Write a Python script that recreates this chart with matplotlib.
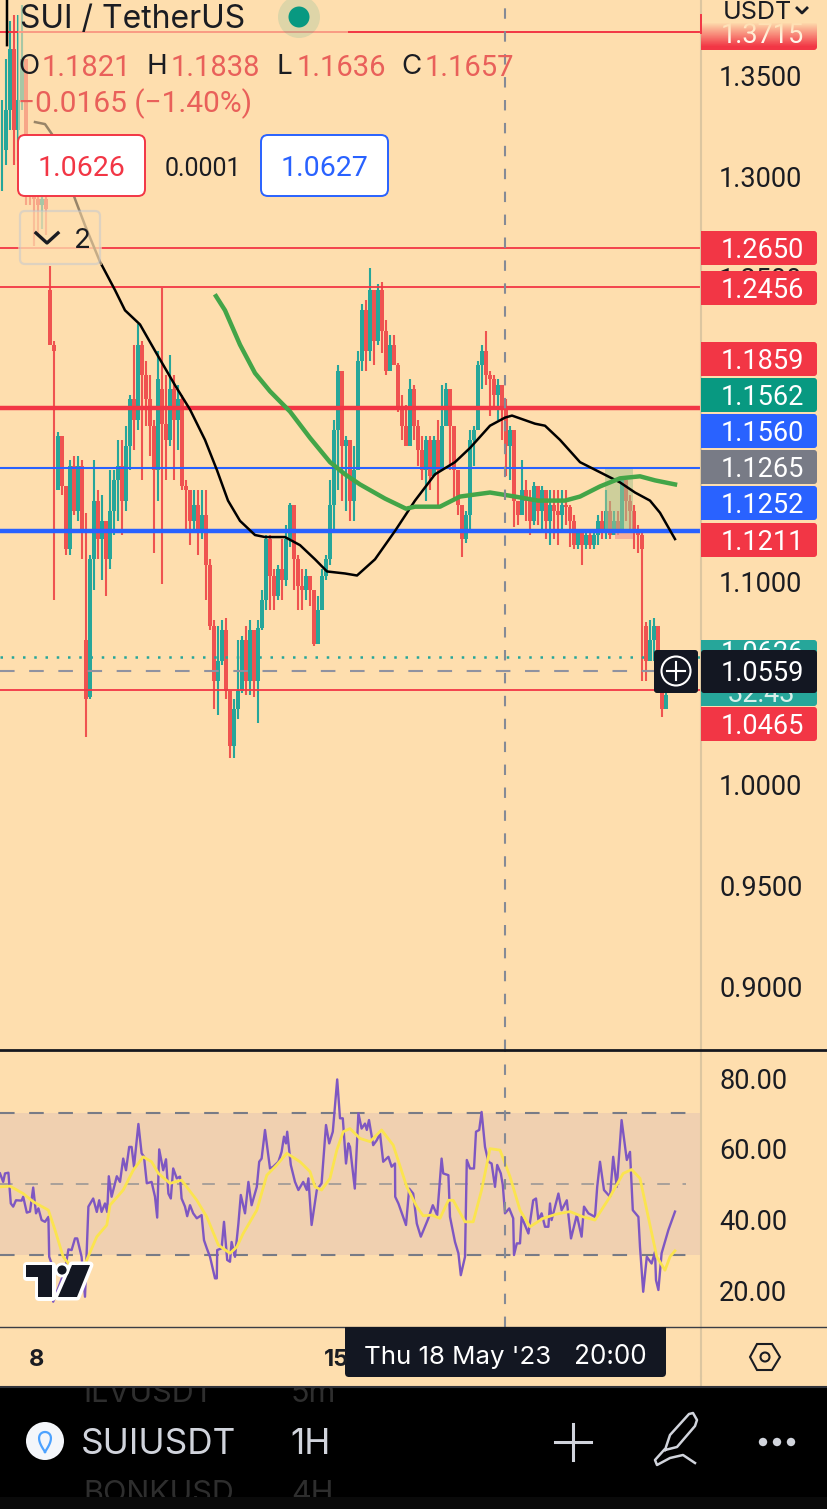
import numpy as np
import matplotlib
matplotlib.use("Agg")
import matplotlib.pyplot as plt
from matplotlib.patches import Rectangle, Circle, FancyBboxPatch, Polygon

plt.rcParams['font.family'] = ['Inter', 'DejaVu Sans']

# candles, price in USDT. opens follow the previous close except in open_gaps
closes = [1.313, 1.333, 1.363, 1.323, 1.338, 1.358, 1.298, 1.293, 1.289, 1.286,
          1.289, 1.284, 1.217, 1.214, 1.172, 1.147, 1.116, 1.157, 1.135, 1.157,
          1.125, 1.042, 1.111, 1.140, 1.121, 1.130, 1.111, 1.135, 1.150, 1.157,
          1.140, 1.167, 1.190, 1.180, 1.217, 1.202, 1.190, 1.177, 1.155, 1.200,
          1.178, 1.170, 1.195, 1.180, 1.190, 1.147, 1.145, 1.130, 1.138, 1.125,
          1.133, 1.108, 1.078, 1.051, 1.061, 1.076, 1.046, 1.019, 1.037, 1.046,
          1.071, 1.051, 1.076, 1.051, 1.077, 1.091, 1.121, 1.103, 1.093, 1.106,
          1.101, 1.121, 1.138, 1.111, 1.098, 1.096, 1.103, 1.096, 1.069, 1.086,
          1.103, 1.111, 1.138, 1.175, 1.204, 1.167, 1.170, 1.140, 1.155, 1.209,
          1.234, 1.214, 1.244, 1.219, 1.244, 1.224, 1.204, 1.217, 1.207, 1.185,
          1.177, 1.167, 1.195, 1.177, 1.165, 1.155, 1.170, 1.152, 1.170, 1.155,
          1.177, 1.195, 1.177, 1.155, 1.138, 1.121, 1.133, 1.170, 1.175, 1.207,
          1.214, 1.202, 1.200, 1.192, 1.197, 1.185, 1.167, 1.175, 1.140, 1.133,
          1.145, 1.140, 1.130, 1.147, 1.135, 1.145, 1.130, 1.138, 1.135, 1.133,
          1.138, 1.137, 1.130, 1.118, 1.124, 1.118, 1.123, 1.118, 1.123, 1.130,
          1.124, 1.135, 1.123, 1.130, 1.125, 1.150, 1.140, 1.135, 1.125, 1.123,
          1.116, 1.061, 1.071, 1.078, 1.051, 1.037, 1.044]
highs = [1.338, 1.358, 1.377, 1.380, 1.380, 1.385, 1.338, 1.313, 1.298, 1.293,
         1.293, 1.291, 1.256, 1.219, 1.174, 1.167, 1.145, 1.160, 1.162, 1.162,
         1.160, 1.134, 1.113, 1.160, 1.145, 1.143, 1.128, 1.155, 1.155, 1.170,
         1.170, 1.177, 1.192, 1.217, 1.227, 1.219, 1.209, 1.202, 1.180, 1.214,
         1.245, 1.202, 1.212, 1.202, 1.197, 1.192, 1.150, 1.145, 1.145, 1.145,
         1.145, 1.145, 1.111, 1.081, 1.078, 1.081, 1.082, 1.044, 1.042, 1.071,
         1.073, 1.078, 1.081, 1.069, 1.081, 1.096, 1.123, 1.123, 1.106, 1.108,
         1.121, 1.128, 1.139, 1.135, 1.113, 1.106, 1.106, 1.103, 1.091, 1.093,
         1.106, 1.113, 1.150, 1.180, 1.207, 1.185, 1.172, 1.170, 1.167, 1.214,
         1.237, 1.239, 1.255, 1.234, 1.247, 1.248, 1.229, 1.222, 1.222, 1.208,
         1.192, 1.187, 1.200, 1.197, 1.180, 1.172, 1.172, 1.172, 1.172, 1.180,
         1.197, 1.198, 1.185, 1.175, 1.155, 1.138, 1.135, 1.175, 1.177, 1.209,
         1.217, 1.224, 1.204, 1.202, 1.200, 1.197, 1.190, 1.177, 1.172, 1.140,
         1.160, 1.150, 1.145, 1.149, 1.147, 1.147, 1.145, 1.145, 1.145, 1.145,
         1.145, 1.145, 1.138, 1.133, 1.125, 1.124, 1.125, 1.125, 1.125, 1.133,
         1.135, 1.145, 1.140, 1.135, 1.135, 1.152, 1.150, 1.143, 1.138, 1.128,
         1.124, 1.080, 1.081, 1.082, 1.071, 1.046, 1.049]
lows = [1.293, 1.306, 1.323, 1.306, 1.308, 1.333, 1.286, 1.286, 1.266, 1.271,
        1.274, 1.271, 1.217, 1.091, 1.145, 1.143, 1.113, 1.113, 1.133, 1.130,
        1.111, 1.023, 1.042, 1.096, 1.111, 1.101, 1.093, 1.106, 1.123, 1.130,
        1.123, 1.135, 1.155, 1.165, 1.175, 1.150, 1.177, 1.162, 1.114, 1.140,
        1.099, 1.150, 1.167, 1.150, 1.165, 1.145, 1.125, 1.118, 1.125, 1.113,
        1.121, 1.091, 1.076, 1.037, 1.034, 1.059, 1.042, 1.013, 1.013, 1.032,
        1.045, 1.044, 1.044, 1.043, 1.030, 1.076, 1.086, 1.086, 1.086, 1.091,
        1.091, 1.098, 1.117, 1.096, 1.086, 1.086, 1.091, 1.088, 1.068, 1.078,
        1.091, 1.101, 1.108, 1.125, 1.145, 1.140, 1.135, 1.130, 1.130, 1.161,
        1.204, 1.204, 1.209, 1.207, 1.217, 1.213, 1.202, 1.207, 1.207, 1.184,
        1.170, 1.167, 1.167, 1.170, 1.157, 1.150, 1.140, 1.145, 1.155, 1.138,
        1.155, 1.177, 1.155, 1.140, 1.133, 1.112, 1.119, 1.125, 1.157, 1.185,
        1.195, 1.197, 1.182, 1.185, 1.180, 1.170, 1.152, 1.150, 1.127, 1.128,
        1.133, 1.130, 1.123, 1.128, 1.128, 1.125, 1.121, 1.118, 1.121, 1.118,
        1.125, 1.128, 1.117, 1.116, 1.116, 1.108, 1.116, 1.116, 1.116, 1.118,
        1.121, 1.121, 1.121, 1.123, 1.123, 1.125, 1.130, 1.125, 1.116, 1.114,
        1.051, 1.051, 1.066, 1.061, 1.051, 1.033, 1.039]
open_gaps = {12: 1.244, 13: 1.217, 14: 1.145, 21: 1.071, 22: 1.043, 40: 1.195,
             160: 1.123, 161: 1.078, 165: 1.045}

# moving averages, (bar, price). nan = part hidden by the legend
ma_black_x = [1.25, 1.25, 5, 8.25, 10.75, 12.5, 18.25, 20.75, 24.5, 28.25, 30.75, 34.5, 38.25,
              43.25, 47, 50.75, 53.75, 56.5, 59.5, 63.25, 65.75, 70.75, 74.5, 78.25, 81.25,
              85.75, 88.75, 93.25, 98.25, 103.25, 108.25, 113.25, 117, 122, 125.75, 127.5,
              133.25, 135.75, 139.5, 144.5, 149.5, 154.5, 158.25, 162, 164.5, 168.25]
ma_black = [1.387, 1.365, np.nan, 1.327, 1.326, 1.321, 1.289, 1.276, 1.258, 1.244, 1.234, 1.227, 1.214,
            1.197, 1.185, 1.170, 1.155, 1.140, 1.130, 1.123, 1.122, 1.122, 1.118, 1.111, 1.105,
            1.104, 1.103, 1.111, 1.125, 1.140, 1.153, 1.159, 1.166, 1.177, 1.181, 1.182,
            1.178, 1.177, 1.170, 1.159, 1.154, 1.149, 1.144, 1.140, 1.134, 1.121]
ma_green_x = [53.5, 55.75, 59.5, 63.25, 67, 72, 77, 82, 85.75, 89.5, 95.75, 101, 103.25, 109.5,
              114.5, 122, 128.25, 134, 140.75, 144.5, 149.5, 154.5, 159.5, 163.25, 168.25]
ma_green = [1.241, 1.234, 1.217, 1.203, 1.194, 1.184, 1.171, 1.159, 1.153, 1.148, 1.141, 1.136,
            1.137, 1.137, 1.142, 1.144, 1.142, 1.140, 1.140, 1.142, 1.147, 1.151, 1.152, 1.150,
            1.148]

# rsi pane
rsi_x = [-0.5, 0.3, 0.75, 1.6, 2.2, 2.8, 3.5, 4.9, 5.3, 6.2, 7, 7.8, 8.5, 9.1, 9.9, 10.75, 11.6,
         11.8, 12.4, 12.8, 14.5, 15.75, 16.6, 17.4, 18.25, 18.8, 19.9, 20.75, 21.6, 22.8, 23.7,
         24.3, 24.9, 25.75, 26.3, 26.7, 27.4, 28.7, 29.5, 30.3, 31, 31.8, 32.4, 33, 34.1, 34.9,
         35.5, 36.2, 37.4, 38.25, 38.8, 39.3, 40.3, 41, 41.6, 42.2, 42.8, 43.7, 44.5, 44.9,
         45.75, 46.3, 47, 47.8, 48.7, 49.9, 50.5, 51.2, 52, 53.25, 53.7, 53.8, 54.9, 55.5, 56.3,
         57, 57.4, 58.25, 59.1, 59.7, 60.75, 61.6, 62.4, 63.7, 64.3, 64.9, 65.75, 67, 67.8, 69.1,
         69.9, 70.5, 71, 71.3, 72.2, 73.25, 74.1, 75.3, 76.2, 76.6, 77.4, 78.7, 79.9, 81, 81.8,
         82.7, 83.8, 84.5, 85.2, 86, 86.6,
         87, 88.2, 89.1, 89.9, 90.75, 91.2, 91.75, 92.8, 93.7, 94.5, 95.3, 96.6, 97.4, 98.25,
         98.3, 99.1, 100.3, 101, 101.8, 102.8, 103.7, 104.7, 106.6, 107.7, 108.8, 109.9, 110.3,
         111.6, 112, 113.25, 114.1, 114.7, 115.75, 116.2, 117, 118, 118.5, 119.3, 119.9, 120.75,
         121.6, 122.4, 123.25, 123.8, 124.7, 125.2, 125.75, 126.8, 127.8, 128, 128.7, 129.5,
         129.9, 131.6, 132.8, 133.5, 134.1, 134.9, 135.75, 136.6, 137, 137.4, 139.1, 139.9,
         141.2, 142.25, 143.7, 144.9, 145.5, 146.6, 148.25, 148.8, 149.5, 150.5, 152, 152.8,
         153.7, 154.9, 156.2, 157, 157.7, 159.1, 159.5, 160.3, 161.2, 162.4, 163.25, 163.5,
         164.1, 164.9, 166.6, 168.25]
rsi = [53.0, 50.6, 53.0, 53.2, 44.5, 43.6, 45.4, 45.3, 46.4, 41.9, 42.2, 49.0, 41.7, 43.1, 39.8, 39.3, 40.7,
       29.4, 27.5, 16.7, 21.9, 25.6, 31.5, 31.3, 34.6, 34.6, 29.4, 18.1, 43.6, 45.9, 42.1,
       45.4, 42.1, 44.5, 42.1, 52.2, 46.4, 52.2, 50.6, 57.2, 53.9, 60.5, 60.5, 54.9, 67.0, 58.7,
       57.7, 50.2, 50.6, 46.4, 40.5, 59.8, 53.9, 57.0, 47.3, 45.9, 54.4, 51.6, 52.1, 45.9,
       43.6, 40.9, 44.0, 41.7, 40.3, 41.2, 34.1, 31.8, 29.4, 23.3, 23.3, 31.3, 31.8, 39.3, 28.5,
       28.0, 33.6, 29.4, 38.8, 46.9, 41.7, 50.6, 44.0, 49.2, 56.3, 57.2, 65.3, 54.4, 54.9, 56.3,
       59.1, 63.4, 61.5, 64.8, 55.4, 50.6, 48.3, 50.6, 48.3, 51.6, 38.4, 48.3, 50.2, 66.7, 61.5,
       64.8, 79.6, 68.6, 68.6, 55.8, 61.5,
       60.5, 48.7, 70.0, 65.7, 67.1, 65.3, 68.1, 61.0, 62.4, 64.3, 56.3, 57.7, 54.9, 55.8,
       46.4, 44.5, 40.7, 38.4, 48.7, 47.3, 38.8, 35.1, 40.3, 44.0, 41.2, 57.2, 53.0,
       52.5, 40.7, 33.6, 30.4, 24.2, 29.4, 56.8, 54.4, 54.4, 64.8, 65.3, 70.4, 60.5,
       56.3, 55.8, 49.2, 55.4, 53.0, 49.7, 41.7, 43.1, 40.3, 29.9, 33.2, 33.2,
       40.7, 36.0, 45.4, 45.9, 39.8, 41.7, 37.9, 37.9, 44.5, 39.8, 47.3, 42.6,
       45.4, 34.6, 41.2, 35.1, 43.6, 41.7, 40.7, 49.2, 56.3, 48.3, 46.4, 57.7,
       49.2, 68.1, 56.8, 59.1, 42.6, 40.7, 32.2, 19.5, 29.4, 27.5, 30.8, 22.8,
       20.0, 30.4, 37.0, 42.2]
rsi_ma_x = [-0.5, 2, 5.3, 7.8, 11.6, 13.25, 15.3, 16.6, 18.25, 21, 23.7, 26.2, 27, 30.3, 32.8, 35.3,
            37.4, 39.1, 42, 44.9, 48.7, 51.2, 54.1, 57, 58.7, 60.3, 63.7, 66.2, 68.7, 71.2, 74.5,
            77, 78.25, 79.9, 82, 83.7, 85.3, 87, 89.5, 92, 94.9, 97.8, 101.2, 103.7, 105.3, 107.4,
            109.5, 111.6, 112.8, 115.75, 117.8, 119.9, 122, 124.5, 127, 129.5, 132, 135.3, 138.7,
            142, 145.3, 148.25, 152, 155.3, 157.4, 159.5, 161.2, 163.7, 165.75, 167, 168.25]
rsi_ma = [49.2, 49.4, 47.3, 45, 42.6, 37, 29.4, 27.5, 25.6, 28, 35.1, 38.4, 44, 48.3, 53.9, 57.7,
          56.3, 53, 50.2, 51.1, 45.4, 40.7, 32.7, 30.4, 32.2, 36, 42.6, 52.5, 55.4, 58.7, 56.3,
          53.5, 49.2, 48.3, 51.6, 59.6, 64.8, 65.7, 62.9, 62, 65.3, 61, 49.2, 43.6, 41, 41.2,
          40.3, 45.4, 45.4, 39.3, 39.3, 48.3, 60, 59.6, 52.1, 42.6, 37.9, 40.3, 41.5,
          42.2, 40.7, 39.8, 46.4, 53, 54.1, 51.6, 42.6, 29.4, 25.6, 29.4, 31.1]

price_ticks = [0.90, 0.95, 1.00, 1.10, 1.25, 1.30, 1.35]
rsi_ticks = [20, 40, 60, 80]

BG = '#FEDEAE'
UP = '#26A69A'
DOWN = '#EF5350'
RED = '#F23645'
BLUE = '#2962FF'
DARK = '#131722'
TXT = '#1A1C22'
NUM_FONT = ['Roboto', 'DejaVu Sans']

W, H = 828, 1509
XLIM = (-0.5, 174.75)
fig = plt.figure(figsize=(W / 100, H / 100), dpi=100, facecolor=BG)

ax = fig.add_axes([0, 1 - 1050 / H, 701 / W, 1050 / H], facecolor=BG)
ax.set_xlim(*XLIM)
ax.set_ylim(0.8686, 1.3873)
ax2 = fig.add_axes([0, 1 - 1327 / H, 701 / W, 276 / H], facecolor=BG)
ax2.set_xlim(*XLIM)
ax2.set_ylim(9.53, 87.65)

for a in (ax, ax2):
    for s in a.spines.values():
        s.set_visible(False)
    a.set_xticks([])
    a.yaxis.tick_right()
    a.tick_params(axis='y', length=0, pad=13, labelsize=19.5, labelcolor=TXT,
                  labelfontfamily='Roboto')

ax.set_yticks(price_ticks, [f'{t:.4f}' for t in price_ticks])
ax2.set_yticks(rsi_ticks, [f'{t:.2f}' for t in rsi_ticks])

# candles
bars = np.arange(len(closes))
opens = np.array([closes[0]] + closes[:-1])
for i, v in open_gaps.items():
    opens[i] = v
c = np.array(closes)
colors = [UP if c[i] >= opens[i] else DOWN for i in bars]
ax.vlines(bars, lows, highs, colors=colors, lw=1.5, zorder=2)
ax.bar(bars, c - opens, bottom=opens, width=0.85, color=colors, zorder=2.5)

# long / short position tool
ax.add_patch(Rectangle((150.75, 1.1252), 7, 0.0307, fc='#A8C48C', alpha=0.55, lw=0, zorder=2.7))
ax.add_patch(Rectangle((153.25, 1.1211), 4.5, 0.0041, fc='#F49A90', alpha=0.7, lw=0, zorder=2.7))

# drawn levels
ax.axhline(1.3715, color=RED, lw=1.4, zorder=3)
ax.axhline(1.2650, color=RED, lw=1.3, zorder=3)
ax.axhline(1.2456, color=RED, lw=1.3, zorder=3)
ax.axhline(1.1859, color=RED, lw=3.2, zorder=3)
ax.axhline(1.1560, color=BLUE, lw=1.5, zorder=3)
ax.axhline(1.1252, color=BLUE, lw=3.2, zorder=3)
ax.axhline(1.0465, color=RED, lw=1.3, zorder=3)
ax.axhline(1.0625, color=UP, lw=1.8, ls=(0, (1, 3.5)), zorder=3)
ax.axhline(1.0559, color='#8F92A0', lw=1.5, ls=(0, (7, 7)), zorder=3)

ax.plot(ma_black_x, ma_black, color='black', lw=1.8, zorder=4)
ax.plot(ma_green_x, ma_green, color='#43A548', lw=3.2, zorder=4)

# rsi
ax2.axhspan(30, 70, color='#F0D0B0', lw=0, zorder=1)
for lvl, col, wd in [(70, '#787B86', 1.5), (50, '#A39C98', 1.3), (30, '#787B86', 1.5)]:
    ax2.plot([-0.5, 171], [lvl, lvl], color=col, lw=wd, ls=(0, (7, 7)), zorder=2)
ax2.plot(rsi_x, rsi, color='#7E57C2', lw=1.7, zorder=3)
ax2.plot(rsi_ma_x, rsi_ma, color='#FBE44F', lw=2.0, zorder=4)

# crosshair
for a in (ax, ax2):
    a.axvline(125.75, color='#858A96', lw=1.5, ls=(0, (5, 6)), zorder=5)

# interface on top, in pixels
ui = fig.add_axes([0, 0, 1, 1], facecolor='none')
ui.set_xlim(0, W)
ui.set_ylim(H, 0)
ui.axis('off')


def label(x, y, s, color=TXT, size=19.5, ha='center', weight='normal', zorder=20, family=None):
    ui.text(x, y + 2.5, s, color=color, fontsize=size, ha=ha, va='center', fontweight=weight,
            zorder=zorder, family=family if family else plt.rcParams['font.family'])


def pricebox(y, s, fc, y0=None, y1=None, zorder=10):
    y0 = y - 17 if y0 is None else y0
    y1 = y + 17 if y1 is None else y1
    ui.add_patch(FancyBboxPatch((701, y0), 116, y1 - y0, boxstyle='round,pad=0,rounding_size=3',
                                fc=fc, ec='none', zorder=zorder))
    ui.add_patch(Rectangle((701, y0), 6, y1 - y0, fc=fc, ec='none', zorder=zorder))
    label(762, y, s, color='white', zorder=zorder + 1, family=NUM_FONT)


# fade behind the legend
ui.add_patch(Rectangle((18, 0), 330, 130, fc=BG, alpha=0.6, lw=0, zorder=6))
ui.add_patch(Rectangle((18, 130), 84, 135, fc=BG, alpha=0.6, lw=0, zorder=6))

# axis borders
ui.plot([701, 701], [0, 1386], color='#DCC6A0', lw=1.5, zorder=7)
ui.plot([0, 828], [1050, 1050], color='#16181F', lw=2, zorder=7)
ui.plot([0, 828], [1327, 1327], color='#3A3D45', lw=1, zorder=7)

# legend
label(20, 17, 'SUI / TetherUS', ha='left', size=23)
ui.add_patch(Circle((299, 17), 21, fc='#089981', alpha=0.13, lw=0, zorder=8))
ui.add_patch(Circle((299, 17), 10.5, fc='#089981', lw=0, zorder=9))
ohlc_red = '#E9605A'
for x, s in [(18, 'O'), (147, 'H'), (277, 'L'), (401, 'C')]:
    label(x, 65, s, ha='left', size=20)
for x, s in [(42, '1.1821'), (171, '1.1838'), (297, '1.1636'), (425, '1.1657')]:
    label(x, 65, s, color=ohlc_red, ha='left', size=21, family=NUM_FONT)
label(18, 101, '\u22120.0165 (\u22121.40%)', color=ohlc_red, ha='left', size=21.5, family=NUM_FONT)

for x0, col, s in [(18, RED, '1.0626'), (261, BLUE, '1.0627')]:
    ui.add_patch(FancyBboxPatch((x0, 135), 127, 61, boxstyle='round,pad=0,rounding_size=7',
                                fc='white', ec=col, lw=1.4, zorder=9))
    label(x0 + 64, 166, s, color=col, size=20.5, family=NUM_FONT)
label(203, 166, '0.0001', size=18, family=NUM_FONT)

ui.add_patch(FancyBboxPatch((20, 211), 80, 53, boxstyle='round,pad=0,rounding_size=5',
                            fc=BG, alpha=0.45, ec='#B9C4D6', lw=1.6, zorder=9))
ui.plot([36, 47, 58], [233, 243, 233], color=TXT, lw=2.4, zorder=20)
label(82, 238, '2', size=20)

# price axis labels
pricebox(33, '1.3715', RED, y0=22, y1=50)
for i in range(24):
    ui.add_patch(Rectangle((701, 22 + i), 118, 1.2, fc=BG, alpha=1 - i / 24, lw=0, zorder=12))
ui.plot([701, 701], [15, 33], color=RED, lw=1.4, zorder=13)
label(757, 10, 'USDT', size=18)
ui.plot([797, 802, 807], [8, 13, 8], color=TXT, lw=2, zorder=20)

pricebox(248, '1.2650', RED)
pricebox(288, '1.2456', RED)
pricebox(359, '1.1859', RED)
pricebox(395, '1.1562', '#089981')
pricebox(431, '1.1560', BLUE)
pricebox(467, '1.1265', '#787B86')
pricebox(503, '1.1252', BLUE)
pricebox(540, '1.1211', RED)
pricebox(673, '', UP, y0=640, y1=706)
label(762, 651, '1.0626', color='white', zorder=10.5, family=NUM_FONT)
label(762, 692, '32:43', color='#D8EFEA', zorder=10.5, family=NUM_FONT)
pricebox(724, '1.0465', RED)

ui.add_patch(FancyBboxPatch((701, 650), 116, 43, boxstyle='round,pad=0,rounding_size=3',
                            fc=DARK, ec='none', zorder=14))
label(762, 671, '1.0559', color='white', zorder=15, family=NUM_FONT)
ui.add_patch(FancyBboxPatch((654, 650), 44, 43, boxstyle='round,pad=0,rounding_size=3',
                            fc=DARK, ec='none', zorder=14))
ui.add_patch(Circle((676, 671), 14.5, fc='none', ec='white', lw=1.5, zorder=15))
ui.plot([667, 685], [671, 671], color='white', lw=1.5, zorder=15)
ui.plot([676, 676], [662, 680], color='white', lw=1.5, zorder=15)

# tradingview mark
logo_t = [(26, 1265), (52, 1265), (52, 1297), (38, 1297), (38, 1277), (26, 1277)]
logo_s = [(72, 1265), (90, 1265), (77, 1297), (58, 1297)]
for pts in (logo_t, logo_s):
    ui.add_patch(Polygon(pts, closed=True, fc=DARK, ec='white', lw=5, joinstyle='round', zorder=16))
    ui.add_patch(Polygon(pts, closed=True, fc=DARK, ec='none', zorder=17))
ui.add_patch(Circle((62, 1270), 6, fc=DARK, ec='white', lw=2, zorder=17))

# time axis
label(37, 1357, '8', size=17, weight='bold')
label(337, 1357, '15', size=17, weight='bold')
ui.add_patch(FancyBboxPatch((345, 1327), 321, 50, boxstyle='round,pad=0,rounding_size=4',
                            fc=DARK, ec='none', zorder=18))
ui.add_patch(Rectangle((345, 1327), 321, 12, fc=DARK, ec='none', zorder=18))
label(458, 1355, "Thu 18 May '23", color='white', size=18.6, zorder=19)
label(610, 1355, '20:00', color='white', size=18.8, zorder=19)

# settings hexagon
ui.add_patch(Polygon([(750, 1357), (757, 1344), (772, 1344), (780, 1357), (772, 1370), (757, 1370)],
                     closed=True, fc='none', ec=TXT, lw=1.5, zorder=20))
ui.add_patch(Circle((765, 1357), 4.5, fc='none', ec=TXT, lw=1.5, zorder=20))

# bottom toolbar
ui.add_patch(Rectangle((0, 1387), W, 122, fc='black', lw=0, zorder=21))
label(83, 1392, 'ILVUSDT', color='#2E2E2E', size=22, ha='left', zorder=22)
label(291, 1392, '5m', color='#2E2E2E', size=22, ha='left', zorder=22)
label(83, 1492, 'BONKUSD', color='#2E2E2E', size=22, ha='left', zorder=22)
label(291, 1492, '4H', color='#2E2E2E', size=22, ha='left', zorder=22)
# clip ghost rows
ui.add_patch(Rectangle((0, 1377), W, 9, fc=BG, lw=0, zorder=22.2))
ui.add_patch(Rectangle((0, 1497), W, 12, fc='#0A0A0A', lw=0, zorder=22.5))
ui.plot([701, 701], [1377, 1386], color='#DCC6A0', lw=1.5, zorder=23)
ui.plot([0, 828], [1386.5, 1386.5], color='#30333B', lw=1.5, zorder=23)

ui.add_patch(Circle((45, 1441), 19, fc='#F4F6FA', lw=0, zorder=23))
drop_t = np.linspace(0, 2 * np.pi, 60)
ui.plot(45 + 8 * np.sin(drop_t) * np.sin(drop_t / 2) ** 1.2,
        1452 - 10 * (1 - np.cos(drop_t)), color='#4DA2FF', lw=1.6, zorder=24)
label(81, 1442, 'SUIUSDT', color='#D1D4DC', size=25.3, ha='left', zorder=24)
label(290, 1442, '1H', color='#D1D4DC', size=25.3, ha='left', zorder=24)
ui.plot([555, 591], [1442, 1442], color='#D1D4DC', lw=2.2, zorder=24)
ui.plot([573, 573], [1424, 1460], color='#D1D4DC', lw=2.2, zorder=24)
# pencil
ui.plot([665, 670, 689, 693, 697, 695, 677, 665], [1450, 1435, 1414, 1413, 1420, 1426, 1447, 1450],
        color='#D1D4DC', lw=1.8, zorder=24)
ui.plot([664, 655, 657, 670, 683, 695], [1450, 1460, 1465, 1458, 1455, 1463],
        color='#D1D4DC', lw=1.8, zorder=24)
for x in (763, 777, 791):
    ui.add_patch(Circle((x, 1442), 4.2, fc='#D1D4DC', lw=0, zorder=24))

fig.savefig('out.png', dpi=100, facecolor=BG)
